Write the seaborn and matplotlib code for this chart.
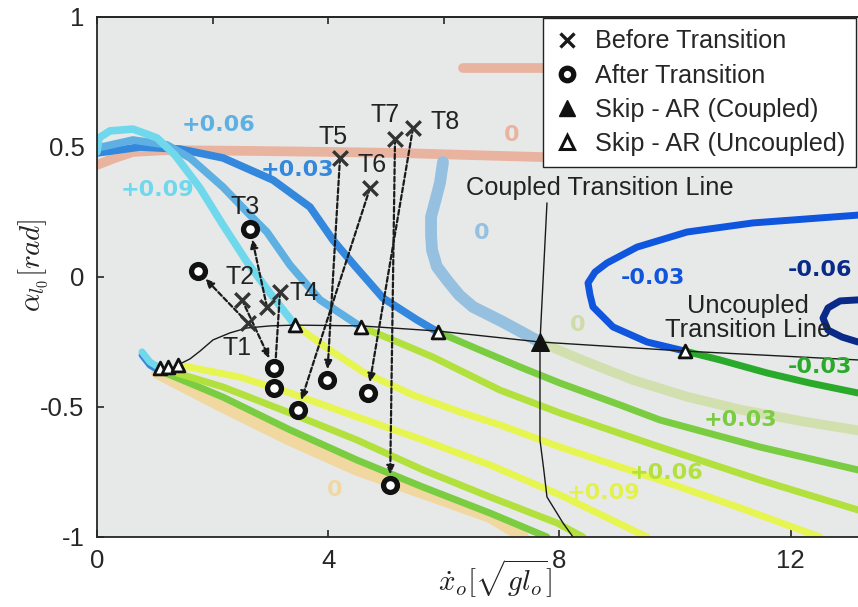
import numpy as np
import pandas as pd
import matplotlib
matplotlib.use("Agg")
import matplotlib.pyplot as plt
from matplotlib.lines import Line2D
import seaborn as sns

# ---------------- data ----------------
# iso-contours of the gait map
salmon0_low_x = [0.0, 0.311, 0.623, 1.211, 2.647, 4.031, 5.242, 6.453, 7.9]
salmon0_low_y = [0.431, 0.458, 0.481, 0.488, 0.485, 0.481, 0.477, 0.469, 0.46]
salmon0_up_x = [6.332, 7.9]
salmon0_up_y = [0.804, 0.804]

lblue0_x = [5.986, 5.934, 5.85, 5.779, 5.78, 5.796, 5.88, 6.055, 6.27, 6.505, 7.024, 7.664]
lblue0_y = [0.442, 0.362, 0.29, 0.231, 0.16, 0.104, 0.04, -0.012, -0.07, -0.115, -0.173, -0.25]

pale0_x = [7.664, 8.4, 9.273, 10.2, 11.125, 12.2, 13.166]
pale0_y = [-0.25, -0.32, -0.396, -0.46, -0.51, -0.555, -0.59]

blue03_x = [0.0, 0.744, 1.436, 2.18, 3.045, 3.685, 4.083, 4.464, 4.948, 5.536, 5.9]
blue03_y = [0.477, 0.5, 0.492, 0.458, 0.373, 0.269, 0.142, 0.042, -0.081, -0.165, -0.212]

blue06_x = [0.0, 0.623, 1.211, 1.609, 2.18, 2.647, 2.94, 3.339, 3.858, 4.567]
blue06_y = [0.496, 0.527, 0.508, 0.458, 0.346, 0.238, 0.173, 0.046, -0.088, -0.192]

cyan09_x = [0.0, 0.035, 0.225, 0.623, 1.038, 1.349, 1.782, 2.18, 2.595, 2.993, 3.426]
cyan09_y = [0.481, 0.535, 0.562, 0.569, 0.535, 0.469, 0.342, 0.2, 0.058, -0.062, -0.185]

green03_x = [5.9, 6.626, 7.318, 8.01, 9.048, 9.74, 11.47, 13.166]
green03_y = [-0.212, -0.281, -0.346, -0.408, -0.492, -0.55, -0.654, -0.742]

lime06_x = [4.567, 5.242, 5.813, 6.972, 8.01, 9.74, 11.47, 13.166]
lime06_y = [-0.192, -0.254, -0.308, -0.435, -0.523, -0.654, -0.781, -0.896]

yel09_x = [3.426, 4.031, 4.602, 5.467, 6.28, 6.972, 8.01, 9.74, 11.125, 12.509]
yel09_y = [-0.185, -0.281, -0.365, -0.454, -0.519, -0.569, -0.654, -0.781, -0.888, -1.0]

yel09_low_x = [1.401, 2.474, 3.339, 4.498, 5.64, 6.799, 8.01, 9.516]
yel09_low_y = [-0.338, -0.385, -0.446, -0.538, -0.627, -0.723, -0.838, -1.0]

lime06_low_x = [1.211, 2.18, 3.339, 4.498, 5.64, 6.799, 7.958, 8.408]
lime06_low_y = [-0.358, -0.423, -0.523, -0.627, -0.742, -0.846, -0.946, -1.0]

green03_low_x = [1.142, 2.18, 3.339, 4.498, 5.64, 6.799, 7.785]
green03_low_y = [-0.365, -0.462, -0.588, -0.704, -0.808, -0.908, -1.0]

tan0_x = [1.038, 2.18, 3.339, 4.498, 5.64, 6.799, 7.37]
tan0_y = [-0.369, -0.5, -0.627, -0.742, -0.831, -0.923, -1.0]

hook_x = [0.779, 0.917, 1.09]
hook_y = [-0.288, -0.327, -0.35]

bluem03_x = [10.173, 9.516, 8.927, 8.581, 8.53, 8.495, 8.616, 8.824, 9.343, 10.208, 11.349, 13.166]
bluem03_y = [-0.285, -0.25, -0.192, -0.115, -0.069, -0.023, 0.019, 0.054, 0.115, 0.173, 0.208, 0.238]
navy06_x = [13.166, 12.855, 12.647, 12.561, 12.647, 12.889, 13.166]
navy06_y = [-0.088, -0.092, -0.119, -0.158, -0.204, -0.231, -0.25]
greenm03_x = [10.173, 10.779, 11.592, 12.336, 13.166]
greenm03_y = [-0.285, -0.319, -0.369, -0.408, -0.446]

# transition lines
uncoupled_x = [1.401, 1.609, 1.782, 2.007, 2.3, 2.595, 3.0, 3.426, 4.567, 5.9, 7.664, 10.173, 13.166]
uncoupled_y = [-0.338, -0.315, -0.285, -0.242, -0.215, -0.196, -0.188, -0.185, -0.188, -0.208, -0.25, -0.285, -0.319]
coupled_x = [7.785, 7.664, 7.664, 7.73, 7.785, 8.062, 8.235]
coupled_y = [0.285, -0.25, -0.627, -0.742, -0.846, -0.946, -1.0]

# trials
trial_names = ["T1", "T2", "T3", "T4", "T5", "T6", "T7", "T8"]
before_x = [2.61, 2.51, 2.94, 3.166, 4.204, 4.723, 5.156, 5.467]
before_y = [-0.177, -0.088, -0.115, -0.058, 0.458, 0.342, 0.531, 0.573]
after_x = [1.747, 3.06, 2.647, 3.06, 3.979, 3.478, 5.07, 4.689]
after_y = [0.023, -0.35, 0.185, -0.427, -0.396, -0.512, -0.80, -0.446]
tlabel_x = [2.42, 2.47, 2.56, 3.58, 4.08, 4.76, 4.98, 6.02]
tlabel_y = [-0.273, 0.0, 0.269, -0.062, 0.538, 0.431, 0.623, 0.596]

# skip-AR points
skip_unc_x = [1.09, 1.228, 1.401, 3.426, 4.567, 5.9, 10.173]
skip_unc_y = [-0.35, -0.346, -0.338, -0.185, -0.192, -0.212, -0.285]
skip_cpl_x = [7.664]
skip_cpl_y = [-0.25]

# contour labels
clab_text = ["+0.06", "+0.03", "+0.09", "0", "0", "0", "-0.03", "-0.06", "-0.03", "+0.03", "+0.06", "+0.09", "0"]
clab_x = [2.11, 3.46, 1.038, 7.18, 6.66, 8.32, 9.62, 12.5, 12.51, 11.14, 9.86, 8.77, 4.12]
clab_y = [0.585, 0.41, 0.335, 0.546, 0.169, -0.185, -0.004, 0.027, -0.346, -0.55, -0.754, -0.83, -0.819]

xticks = [0, 4, 8, 12]
top_ticks = [0, 2, 4, 6, 8, 10, 12]
yticks = [-1, -0.5, 0, 0.5, 1]
ytick_labels = ["-1", "-0.5", "0", "0.5", "1"]

# ---------------- style ----------------
C_SALMON = "#e8b4a0"
C_LBLUE = "#95c0e0"
C_PALE = "#d2e0b0"
C_BLUE03 = "#3388dd"
C_BLUE06 = "#5eb0e3"
C_CYAN = "#70d8ec"
C_GREEN = "#7acc40"
C_LIME = "#b2e03c"
C_YEL = "#e6f550"
C_TAN = "#f0d8a0"
C_BM03 = "#1055dd"
C_NAVY = "#0a2a8a"
C_GM03 = "#2aaa2a"
clab_col = [C_BLUE06, C_BLUE03, C_CYAN, C_SALMON, C_LBLUE, "#cddca8", C_BM03, C_NAVY,
            C_GM03, C_GREEN, C_LIME, "#e2f24a", C_TAN]

sns.set_style("ticks")
plt.rcParams["font.family"] = ["Liberation Sans", "DejaVu Sans"]
plt.rcParams["mathtext.fontset"] = "cm"

fig = plt.figure(figsize=(8.58, 6.07), dpi=100)
ax = fig.add_axes([97 / 858, 70 / 607, 761 / 858, 520 / 607])
ax.set_facecolor("#e7e9e9")


def curve(x, y, color, lw, z=2, alpha=1.0):
    df = pd.DataFrame({"x": x, "y": y})
    sns.lineplot(data=df, x="x", y="y", sort=False, estimator=None, color=color,
                 linewidth=lw, ax=ax, zorder=z, alpha=alpha,
                 solid_capstyle="round", solid_joinstyle="round")


curve(tan0_x, tan0_y, C_TAN, 8.5, 1.5)
curve(salmon0_low_x, salmon0_low_y, C_SALMON, 7, 1.6)
curve(salmon0_up_x, salmon0_up_y, C_SALMON, 7, 1.6)
curve(lblue0_x, lblue0_y, C_LBLUE, 8.5, 1.7)
curve(pale0_x, pale0_y, C_PALE, 7, 1.7)
curve(hook_x, [v - 0.012 for v in hook_y], C_BLUE03, 5, 1.8)
curve(hook_x, hook_y, C_CYAN, 5, 1.9)
curve(green03_low_x, green03_low_y, C_GREEN, 5, 2.0)
curve(lime06_low_x, lime06_low_y, C_LIME, 5, 2.0)
curve(yel09_low_x, yel09_low_y, C_YEL, 5, 2.0)
curve(green03_x, green03_y, C_GREEN, 5, 2.0)
curve(lime06_x, lime06_y, C_LIME, 5, 2.0)
curve(yel09_x, yel09_y, C_YEL, 5, 2.0)
curve(blue03_x, blue03_y, C_BLUE03, 5.5, 2.2)
curve(blue06_x, blue06_y, C_BLUE06, 5.5, 2.3)
curve(cyan09_x, cyan09_y, C_CYAN, 5.5, 2.4)
curve(bluem03_x, bluem03_y, C_BM03, 5, 2.2)
curve(navy06_x, navy06_y, C_NAVY, 5, 2.2)
curve(greenm03_x, greenm03_y, C_GM03, 5, 2.2)

# transition lines
curve(uncoupled_x, uncoupled_y, "#1a1a1a", 1.0, 3)
curve(coupled_x, coupled_y, "#1a1a1a", 1.0, 3)

ax.set_xlim(0, 13.166)
ax.set_ylim(-1, 1)

# arrows between before / after
for bx, by, axx, ayy in zip(before_x, before_y, after_x, after_y):
    ax.annotate("", xy=(axx, ayy), xytext=(bx, by),
                arrowprops=dict(arrowstyle="-|>,head_length=0.5,head_width=0.22",
                                linestyle=(0, (2.2, 1.2)), lw=1.6, color="#1a1a1a",
                                shrinkA=0, shrinkB=7.5),
                zorder=4)

# markers
sns.scatterplot(x=before_x, y=before_y, marker="x", s=110, linewidth=2.4,
                color="#333333", ax=ax, zorder=6)
sns.scatterplot(x=after_x, y=after_y, marker="o", s=100, linewidth=3.8,
                facecolor="white", edgecolor="#111111", ax=ax, zorder=6)
sns.scatterplot(x=skip_unc_x, y=skip_unc_y, marker="^", s=85, linewidth=2.0,
                facecolor="white", edgecolor="#111111", ax=ax, zorder=6)
sns.scatterplot(x=skip_cpl_x, y=skip_cpl_y, marker="^", s=160, linewidth=1.0,
                color="#111111", edgecolor="#111111", ax=ax, zorder=6)

for name, tx, ty in zip(trial_names, tlabel_x, tlabel_y):
    ax.text(tx, ty, name, fontsize=18, color="#222222", ha="center", va="center", zorder=7)

for t, tx, ty, c in zip(clab_text, clab_x, clab_y, clab_col):
    ax.text(tx, ty, t, fontsize=16, fontweight="bold", color=c, ha="center",
            va="center", family="DejaVu Sans", zorder=5)

ax.text(8.70, 0.342, "Coupled Transition Line", fontsize=18.3, color="#222222",
        ha="center", va="center", zorder=7)
ax.text(11.26, -0.157, "Uncoupled\nTransition Line", fontsize=18.3, color="#222222",
        ha="center", va="center", linespacing=1.0, zorder=7)

# axes styling
ax.set_xticks(xticks)
ax.set_xticklabels([str(v) for v in xticks])
ax.set_yticks(yticks)
ax.set_yticklabels(ytick_labels)
ax.tick_params(direction="in", length=5, width=1.2, labelsize=18.5,
               colors="#262626", pad=9, top=False, right=False)
for s in ["left", "bottom", "top"]:
    ax.spines[s].set_visible(True)
    ax.spines[s].set_linewidth(1.3)
    ax.spines[s].set_color("#262626")
ax.spines["right"].set_visible(False)

sec = ax.secondary_xaxis("top")
sec.set_xticks(top_ticks)
sec.tick_params(direction="in", length=5, width=1.2, colors="#262626",
                labeltop=False)
sec.spines["top"].set_linewidth(1.3)
sec.spines["top"].set_color("#262626")

ax.set_xlabel(r"$\dot{x}_o[\sqrt{gl_o}]$", fontsize=21, color="#222222")
ax.set_ylabel(r"$\alpha_{l_0}[rad]$", fontsize=21, color="#222222")
ax.xaxis.set_label_coords(0.523, -0.04)
ax.yaxis.set_label_coords(-0.062, 0.523)

handles = [
    Line2D([], [], ls="none", marker="x", ms=10, mew=2.4, color="#1a1a1a"),
    Line2D([], [], ls="none", marker="o", ms=9, mew=3.8, mfc="white", mec="#111111"),
    Line2D([], [], ls="none", marker="^", ms=12, mew=1, color="#111111"),
    Line2D([], [], ls="none", marker="^", ms=10, mew=2.2, mfc="white", mec="#111111"),
]
labels = ["Before Transition", "After Transition", "Skip - AR (Coupled)", "Skip - AR (Uncoupled)"]
leg = ax.legend(handles, labels, loc="upper right", bbox_to_anchor=(0.998, 0.998),
                borderaxespad=0.0, fontsize=18.2, frameon=True, fancybox=False,
                framealpha=1, edgecolor="#222222", handlelength=1.0,
                handletextpad=0.6, labelspacing=0.4, borderpad=0.45)
leg.get_frame().set_linewidth(1.0)
leg.set_zorder(20)

fig.savefig("out.png", dpi=100, facecolor="white")
